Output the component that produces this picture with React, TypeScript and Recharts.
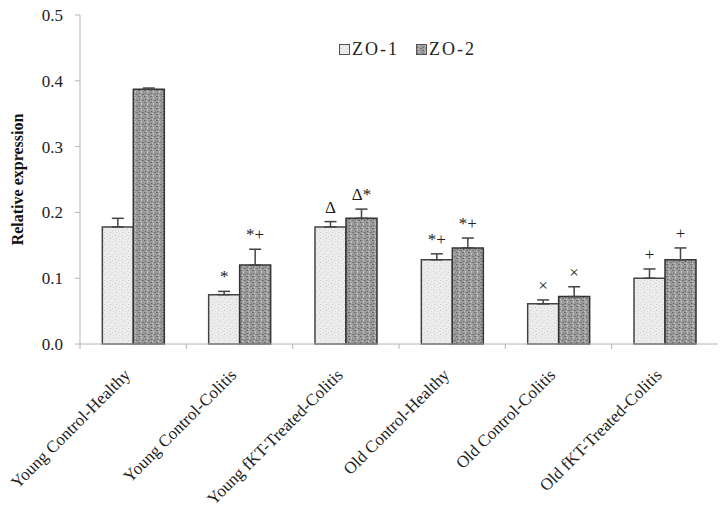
import { BarChart, Bar, XAxis, YAxis, ErrorBar, LabelList, Legend } from 'recharts'

const categories = [
  'Young Control-Healthy',
  'Young Control-Colitis',
  'Young fKT-Treated-Colitis',
  'Old Control-Healthy',
  'Old Control-Colitis',
  'Old fKT-Treated-Colitis',
]
const zo1 = [0.178, 0.075, 0.178, 0.128, 0.061, 0.1]
const zo1Err = [0.013, 0.005, 0.008, 0.009, 0.006, 0.014]
const zo2 = [0.387, 0.12, 0.191, 0.146, 0.072, 0.128]
const zo2Err = [0.002, 0.024, 0.014, 0.015, 0.015, 0.018]
const zo1Marks = ['', '*', 'Δ', '*+', '×', '+']
const zo2Marks = ['', '*+', 'Δ*', '*+', '×', '+']
const yTicks = [0, 0.1, 0.2, 0.3, 0.4, 0.5]

const data = categories.map((name, i) => ({
  name,
  zo1: zo1[i],
  zo2: zo2[i],
  zo1Err: [0, zo1Err[i]],
  zo2Err: [0, zo2Err[i]],
  zo1Mark: zo1Marks[i],
  zo2Mark: zo2Marks[i],
}))

const SERIF = '"Liberation Serif", "Times New Roman", serif'
const AXIS = '#b4b4b4'

// marker text sits a little above the top of the error bar
function markLabel(errs: number[], vals: number[]) {
  return (p: any) => {
    const { x, y, width, height, value, index } = p
    if (!value) return null
    const perUnit = height / vals[index]
    const top = y - errs[index] * perUnit
    return (
      <text x={x + width / 2} y={top - 9} textAnchor="middle"
        fontFamily={SERIF} fontSize={17} fill="#222">{value}</text>
    )
  }
}

function CatTick({ x, y, payload }: any) {
  const half = payload?.offset ?? 53
  const tx = x - 2
  const ty = y + 32
  return (
    <g>
      <line x1={x - half} y1={y} x2={x - half} y2={y + 5} stroke={AXIS} />
      <text x={tx} y={ty} textAnchor="end" transform={`rotate(-45 ${tx} ${ty})`}
        fontFamily={SERIF} fontSize={17} fill="#222">{payload.value}</text>
    </g>
  )
}

function LegendBox() {
  const item = (fill: string, label: string, gap: number) => (
    <span style={{ display: 'inline-flex', alignItems: 'center', marginRight: gap }}>
      <svg width={11} height={11} style={{ marginRight: 2 }}>
        <rect x={0.5} y={0.5} width={10} height={10} fill={fill} stroke="#555" />
      </svg>
      {label}
    </span>
  )
  return (
    <div style={{ fontFamily: SERIF, fontSize: 18, letterSpacing: 2, color: '#222', whiteSpace: 'nowrap' }}>
      {item('url(#speckLight)', 'ZO-1', 17)}
      {item('url(#speckDark)', 'ZO-2', 0)}
    </div>
  )
}

function Patterns() {
  return (
    <svg width={0} height={0} style={{ position: 'absolute' }}>
      <defs>
        <pattern id="speckLight" width={6} height={6} patternUnits="userSpaceOnUse">
          <rect width={6} height={6} fill="#ececec" />
          <rect x={1} y={1} width={1} height={1} fill="#cfcfcf" />
          <rect x={4} y={2} width={1} height={1} fill="#d6d6d6" />
          <rect x={2} y={4} width={1} height={1} fill="#c9c9c9" />
          <rect x={5} y={5} width={1} height={1} fill="#dadada" />
        </pattern>
        <pattern id="speckDark" width={6} height={6} patternUnits="userSpaceOnUse">
          <rect width={6} height={6} fill="#9c9c9c" />
          <rect x={0} y={0} width={2} height={1} fill="#6e6e6e" />
          <rect x={3} y={1} width={1} height={2} fill="#c4c4c4" />
          <rect x={1} y={3} width={1} height={1} fill="#5f5f5f" />
          <rect x={4} y={4} width={2} height={1} fill="#747474" />
          <rect x={2} y={5} width={1} height={1} fill="#cccccc" />
          <rect x={5} y={2} width={1} height={1} fill="#858585" />
        </pattern>
      </defs>
    </svg>
  )
}

export default function App() {
  return (
    <div style={{ position: 'absolute', left: 0, top: 0, width: 722, height: 524, background: '#fff' }}>
      <Patterns />
      <BarChart width={722} height={524} data={data}
        margin={{ top: 15, right: 4, left: 0, bottom: 150 }}
        barCategoryGap="21%" barGap={0}>
        <YAxis width={80} domain={[0, 0.5]} ticks={yTicks} tickFormatter={(v: number) => v.toFixed(1)}
          axisLine={{ stroke: AXIS }} tickLine={{ stroke: AXIS }} tickSize={5} tickMargin={12}
          tick={{ fontFamily: SERIF, fontSize: 17, fill: '#222' }}
          label={{ value: 'Relative expression', angle: -90, position: 'insideLeft', dx: 12,
            style: { fontFamily: SERIF, fontSize: 16, fontWeight: 'bold', fill: '#111', textAnchor: 'middle' } }} />
        <XAxis dataKey="name" interval={0} height={30} axisLine={{ stroke: AXIS }} tickLine={false}
          tickSize={0} tickMargin={0} tick={<CatTick />} />
        <Legend layout="horizontal" verticalAlign="middle" align="center" content={<LegendBox />}
          wrapperStyle={{ top: 39, left: 339, width: 160 }} />
        <Bar dataKey="zo1" name="ZO-1" fill="url(#speckLight)" stroke="#444" strokeWidth={1.5}
          isAnimationActive={false}>
          <ErrorBar dataKey="zo1Err" width={6} stroke="#444" strokeWidth={1.5} direction="y" />
          <LabelList dataKey="zo1Mark" content={markLabel(zo1Err, zo1)} />
        </Bar>
        <Bar dataKey="zo2" name="ZO-2" fill="url(#speckDark)" stroke="#333" strokeWidth={1.5}
          isAnimationActive={false}>
          <ErrorBar dataKey="zo2Err" width={6} stroke="#444" strokeWidth={1.5} direction="y" />
          <LabelList dataKey="zo2Mark" content={markLabel(zo2Err, zo2)} />
        </Bar>
      </BarChart>
    </div>
  )
}
